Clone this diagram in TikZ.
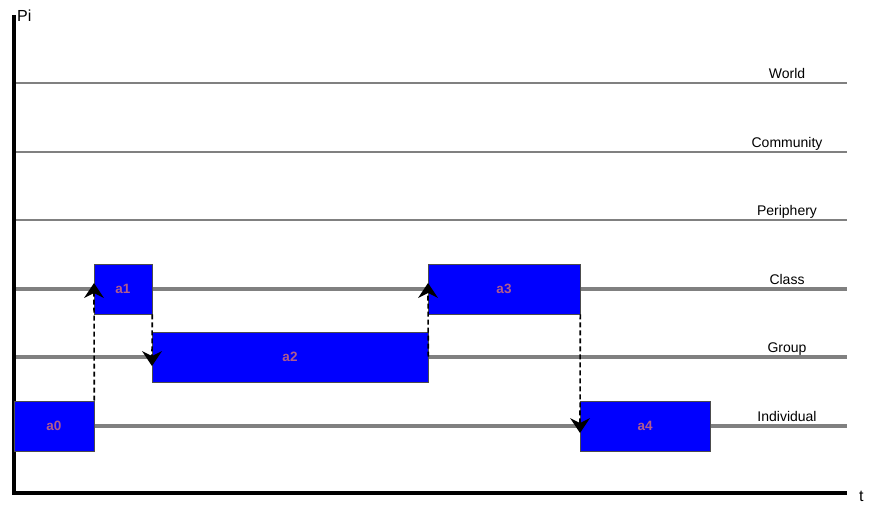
\documentclass[tikz,border=0pt]{standalone}
\usepackage{fontspec}
\setmainfont{Liberation Sans}
\definecolor{lvl}{RGB}{128,128,128}
\definecolor{boxblue}{RGB}{0,0,255}
\definecolor{boxtxt}{RGB}{176,92,140}
\tikzset{
  x=1pt, y=-1pt,
  thinlvl/.style={draw=lvl, line width=2pt},
  thicklvl/.style={draw=lvl, line width=4pt},
  lvllabel/.style={anchor=base, font=\fontsize{14}{16}\selectfont, inner sep=0pt},
  axlabel/.style={anchor=base west, font=\fontsize{16}{18}\selectfont, inner sep=0pt},
  actbox/.style={draw=black!70, line width=0.6pt, fill=boxblue, text=boxtxt, inner sep=0pt,
    font=\fontsize{13.5}{16}\selectfont\bfseries, minimum height=50pt},
  jump/.style={line width=1.6pt, dash pattern=on 5pt off 3pt},
}
\begin{document}
\begin{tikzpicture}
\useasboundingbox (0,0) rectangle (880,516);
% level lines
\foreach \y/\n/\s in {83/World/thinlvl,152/Community/thinlvl,220/Periphery/thinlvl,289/Class/thicklvl,357/Group/thicklvl,426/Individual/thicklvl}{
  \coordinate (L\n) at (14,\y);
  \coordinate (R\n) at (847,\y);
  \draw[\s] (L\n) -- (R\n);
  \node[lvllabel] (lab\n) at (787,\y-4.5) {\n};
}
% axes
\coordinate (O) at (14,493);
\coordinate (Ytop) at (14,15);
\coordinate (Xend) at (847,493);
\draw[line width=4pt] (Ytop) -- (O) -- (Xend);
\node[axlabel] (pi) at (17,22) {Pi};
\node[axlabel] (t) at (859,501) {t};
% activity boxes
\node[actbox, minimum width=80pt] (a0) at (54,426) {a0};
\node[actbox, minimum width=58pt] (a1) at (123,289) {a1};
\node[actbox, minimum width=276pt] (a2) at (290,357) {a2};
\node[actbox, minimum width=152pt] (a3) at (504,289) {a3};
\node[actbox, minimum width=130pt] (a4) at (645,426) {a4};
% transitions
\coordinate (e1) at (94,283);
\coordinate (e2) at (152,366);
\coordinate (e3) at (428,283);
\coordinate (e4) at (580,433);
\draw[jump] (a0.north east) -- ([yshift=-10pt]e1);
\draw[jump] (a1.south east) -- ([yshift=10pt]e2);
\draw[jump] (a2.east |- a2.north east) ++(0,25) -- ([yshift=-10pt]e3);
\draw[jump] (a3.south east) -- ([yshift=10pt]e4);
% arrowheads (up)
\foreach \c in {e1,e3}{
  \fill (\c) -- ++(10,15) -- ++(-10,-5) -- ++(-10,5) -- cycle;
}
% arrowheads (down)
\foreach \c in {e2,e4}{
  \fill (\c) -- ++(10,-15) -- ++(-10,5) -- ++(-10,-5) -- cycle;
}
\end{tikzpicture}
\end{document}
